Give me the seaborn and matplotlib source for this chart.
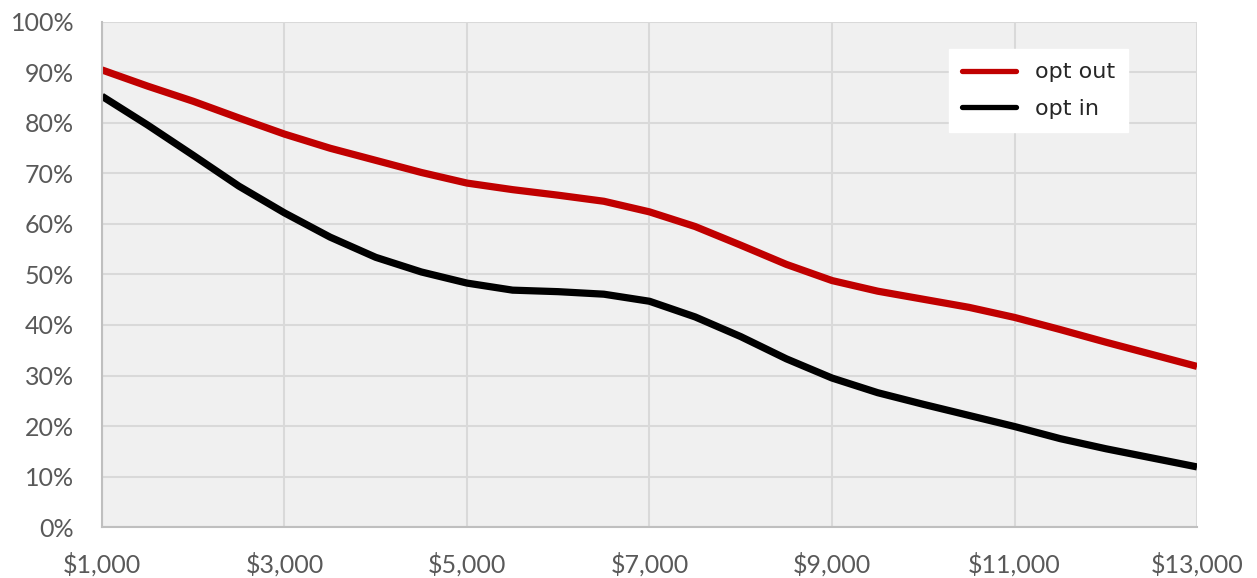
import pandas as pd
import matplotlib
matplotlib.use("Agg")
import matplotlib.pyplot as plt
import seaborn as sns
from matplotlib.ticker import FuncFormatter

# values, every $500
amounts = [1000, 1500, 2000, 2500, 3000, 3500, 4000, 4500, 5000, 5500, 6000, 6500, 7000,
           7500, 8000, 8500, 9000, 9500, 10000, 10500, 11000, 11500, 12000, 12500, 13000]
opt_out = [90.5, 87.3, 84.3, 81.0, 77.8, 75.0, 72.6, 70.2, 68.1, 66.8, 65.7, 64.5, 62.4,
           59.5, 55.8, 52.0, 48.8, 46.7, 45.1, 43.5, 41.5, 39.1, 36.6, 34.2, 31.8]
opt_in = [85.3, 79.6, 73.6, 67.5, 62.2, 57.4, 53.4, 50.5, 48.3, 46.9, 46.6, 46.1, 44.7,
          41.6, 37.7, 33.3, 29.5, 26.6, 24.3, 22.1, 19.9, 17.5, 15.5, 13.7, 11.9]
series_names = ['opt out', 'opt in']
series_colors = ['#C00000', '#000000']

df = pd.concat([
    pd.DataFrame({'amount': amounts, 'share': opt_out, 'group': 'opt out'}),
    pd.DataFrame({'amount': amounts, 'share': opt_in, 'group': 'opt in'}),
])

sns.set_style('whitegrid')
plt.rcParams['font.family'] = ['Lato', 'DejaVu Sans']

fig = plt.figure(figsize=(12.57, 5.78), dpi=100)
ax = fig.add_axes([0.0811, 0.0882, 0.8712, 0.8738])
ax.set_facecolor('#F0F0F0')

sns.lineplot(data=df, x='amount', y='share', hue='group', hue_order=series_names,
             palette=series_colors, linewidth=5.2, ax=ax, legend=False)
for line in ax.lines:
    line.set_solid_joinstyle('round')
    line.set_solid_capstyle('butt')

ax.set_xlim(1000, 13000)
ax.set_ylim(0, 100)
ax.set_xticks(range(1000, 13001, 2000))
ax.set_yticks(range(0, 101, 10))
ax.xaxis.set_major_formatter(FuncFormatter(lambda v, p: f'${int(v):,}'))
ax.yaxis.set_major_formatter(FuncFormatter(lambda v, p: f'{int(v)}%'))
ax.grid(True, color='#D9D9D9', linewidth=1.5)
ax.set_axisbelow(True)
ax.tick_params(axis='both', colors='#595959', labelsize=18, length=0)
ax.tick_params(axis='x', pad=18)
ax.tick_params(axis='y', pad=20)
ax.set_xlabel('')
ax.set_ylabel('')

for side in ['top', 'right']:
    ax.spines[side].set_visible(False)
for side in ['left', 'bottom']:
    ax.spines[side].set_color('#BFBFBF')
    ax.spines[side].set_linewidth(1.5)

# legend box: white, no border, upper right inside the plot
handles = [plt.Line2D([], [], color=c, linewidth=3.8) for c in series_colors]
leg = ax.legend(handles, series_names, loc='upper left', bbox_to_anchor=(0.7735, 0.9465),
                borderaxespad=0, frameon=True, fancybox=False, framealpha=1,
                edgecolor='white', facecolor='white',
                prop={'family': 'DejaVu Sans', 'size': 16},
                handlelength=2.4, handletextpad=0.85, borderpad=0.6, labelspacing=0.75)

fig.savefig('out.png', dpi=100)
